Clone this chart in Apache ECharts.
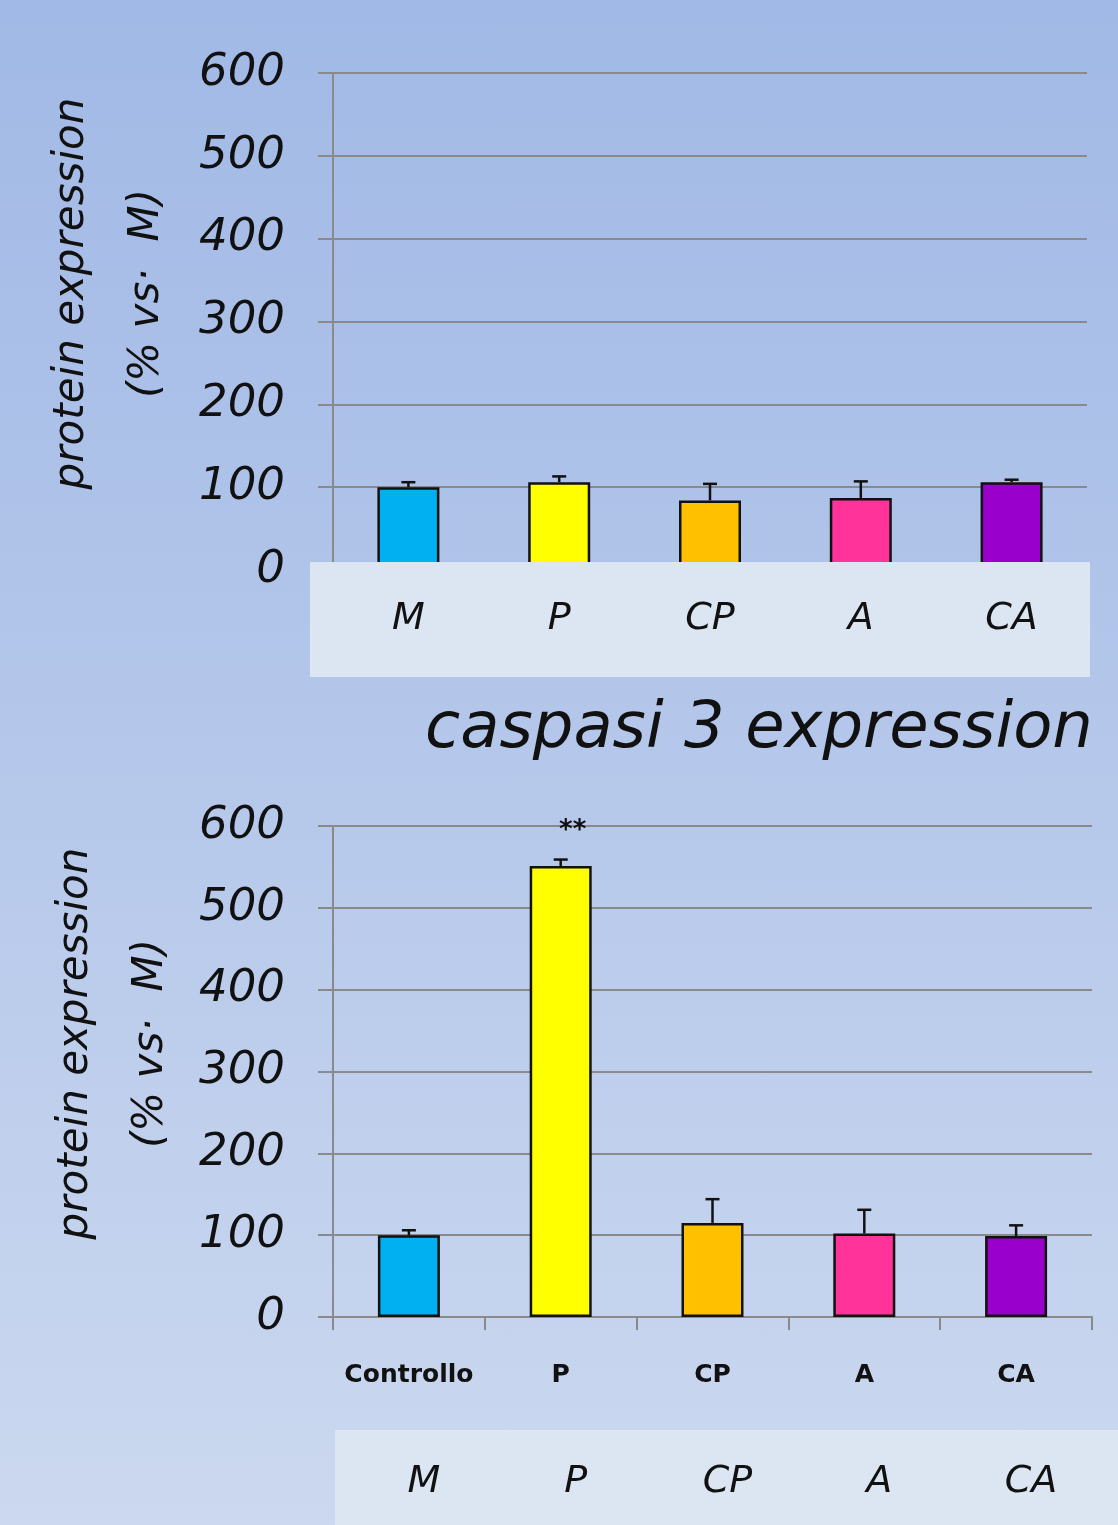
<!DOCTYPE html>
<html>
<head>
<meta charset="utf-8">
<script src="https://cdn.jsdelivr.net/npm/echarts@6/dist/echarts.min.js"></script>
<style>
  html, body { margin: 0; padding: 0; }
  #chart {
    width: 1118px; height: 1525px;
    background: linear-gradient(to bottom, #a1b9e6 0%, #b3c6ea 45%, #cbd8ef 100%);
  }
</style>
</head>
<body>
<div id="chart"></div>
<script>
// Groups and readings (% of the M control group)
const groups = ['M', 'P', 'CP', 'A', 'CA'];
const groupsLong = ['Controllo', 'P', 'CP', 'A', 'CA'];
const barColors = ['#00b0f0', '#ffff00', '#ffc000', '#ff3399', '#9900cc'];

// upper panel
const topValues = [100, 106, 84, 87, 106];
const topErrors = [6, 7, 20, 20, 3];

// lower panel: caspasi 3
const casValues = [100, 551, 115, 102, 99];
const casErrors = [6, 8, 29, 29, 13];
const casSignif = ['', '**', '', '', ''];

const yTicks = { min: 0, max: 600, interval: 100 };

const FONT = 'DejaVu Sans';
const gridColor = '#8a8a8a';

function errorSeries(gridIdx, values, errors) {
  return {
    type: 'custom',
    xAxisIndex: gridIdx === 0 ? 0 : 1,
    yAxisIndex: gridIdx,
    z: 4,
    data: values.map((v, i) => [i, v, v + errors[i]]),
    renderItem: function (params, api) {
      const lo = api.coord([api.value(0), api.value(1)]);
      const hi = api.coord([api.value(0), api.value(2)]);
      const half = 7;
      const style = { stroke: '#111', lineWidth: 2.5 };
      return {
        type: 'group',
        children: [
          { type: 'line', shape: { x1: lo[0], y1: lo[1], x2: hi[0], y2: hi[1] }, style: style },
          { type: 'line', shape: { x1: hi[0] - half, y1: hi[1], x2: hi[0] + half, y2: hi[1] }, style: style }
        ]
      };
    }
  };
}

function barSeries(gridIdx, values, signif) {
  return {
    type: 'bar',
    xAxisIndex: gridIdx === 0 ? 0 : 1,
    yAxisIndex: gridIdx,
    barWidth: 62,
    z: 2,
    data: values.map((v, i) => ({
      value: v,
      itemStyle: { color: barColors[i], borderColor: '#111', borderWidth: 2.5 }
    })),
    label: signif ? {
      show: true,
      position: 'top',
      distance: 22,
      offset: [12, 0],
      formatter: p => signif[p.dataIndex],
      fontFamily: FONT, fontWeight: 'bold', fontSize: 26, color: '#111'
    } : { show: false }
  };
}

function valueAxis(gridIdx, nameGap) {
  return {
    type: 'value',
    gridIndex: gridIdx,
    min: yTicks.min, max: yTicks.max, interval: yTicks.interval,
    name: 'protein expression\n(% vs·  M)',
    nameLocation: 'middle',
    nameRotate: 90,
    nameGap: nameGap,
    nameTextStyle: {
      fontFamily: FONT, fontStyle: 'italic', fontSize: 42, color: '#111',
      lineHeight: 75, padding: [0, 0, 0, 56]
    },
    axisLine: { show: true, lineStyle: { color: gridColor, width: 2 } },
    axisTick: { show: true, length: 15, lineStyle: { color: gridColor, width: 2 } },
    axisLabel: {
      margin: 48, fontFamily: FONT, fontStyle: 'italic', fontSize: 45, color: '#111',
      padding: [0, 0, 12, 0]
    },
    splitLine: { show: true, lineStyle: { color: gridColor, width: 2 } }
  };
}

const chart = echarts.init(document.getElementById('chart'), null, { renderer: 'canvas' });

chart.setOption({
  backgroundColor: 'transparent',
  animation: false,
  title: {
    text: 'caspasi 3 expression',
    left: 420, top: 693,
    textStyle: { fontFamily: FONT, fontStyle: 'italic', fontWeight: 'normal', fontSize: 64, color: '#111' }
  },
  grid: [
    { left: 333, right: 31, top: 73, height: 497, containLabel: false, outerBoundsMode: 'none' },
    { left: 333, right: 26, top: 826, height: 491, containLabel: false, outerBoundsMode: 'none' }
  ],
  xAxis: [
    {
      type: 'category', gridIndex: 0, data: groups, z: 10,
      axisLine: { show: false }, axisTick: { show: false },
      axisLabel: { interval: 0, margin: 30, fontFamily: FONT, fontStyle: 'italic', fontSize: 38, color: '#111' }
    },
    {
      type: 'category', gridIndex: 1, data: groupsLong, position: 'bottom',
      axisLine: { show: true, lineStyle: { color: gridColor, width: 2 } },
      axisTick: { show: true, length: 13, interval: 0, lineStyle: { color: gridColor, width: 2 } },
      axisLabel: { interval: 0, margin: 46, fontFamily: FONT, fontWeight: 'bold', fontSize: 25, color: '#111' }
    },
    {
      type: 'category', gridIndex: 1, data: groups, position: 'bottom', z: 10,
      axisLine: { show: false }, axisTick: { show: false },
      axisLabel: {
        interval: 0, margin: 146, padding: [0, 0, 0, 30],
        fontFamily: FONT, fontStyle: 'italic', fontSize: 38, color: '#111'
      }
    }
  ],
  yAxis: [valueAxis(0, 148), valueAxis(1, 123)],
  graphic: [
    { type: 'rect', z: 5, shape: { x: 310, y: 562, width: 780, height: 115 }, style: { fill: '#dce5f2' } },
    { type: 'rect', z: 5, shape: { x: 335, y: 1430, width: 783, height: 95 }, style: { fill: '#dce5f2' } }
  ],
  series: [
    barSeries(0, topValues, null),
    errorSeries(0, topValues, topErrors),
    barSeries(1, casValues, casSignif),
    errorSeries(1, casValues, casErrors)
  ]
});
</script>
</body>
</html>
